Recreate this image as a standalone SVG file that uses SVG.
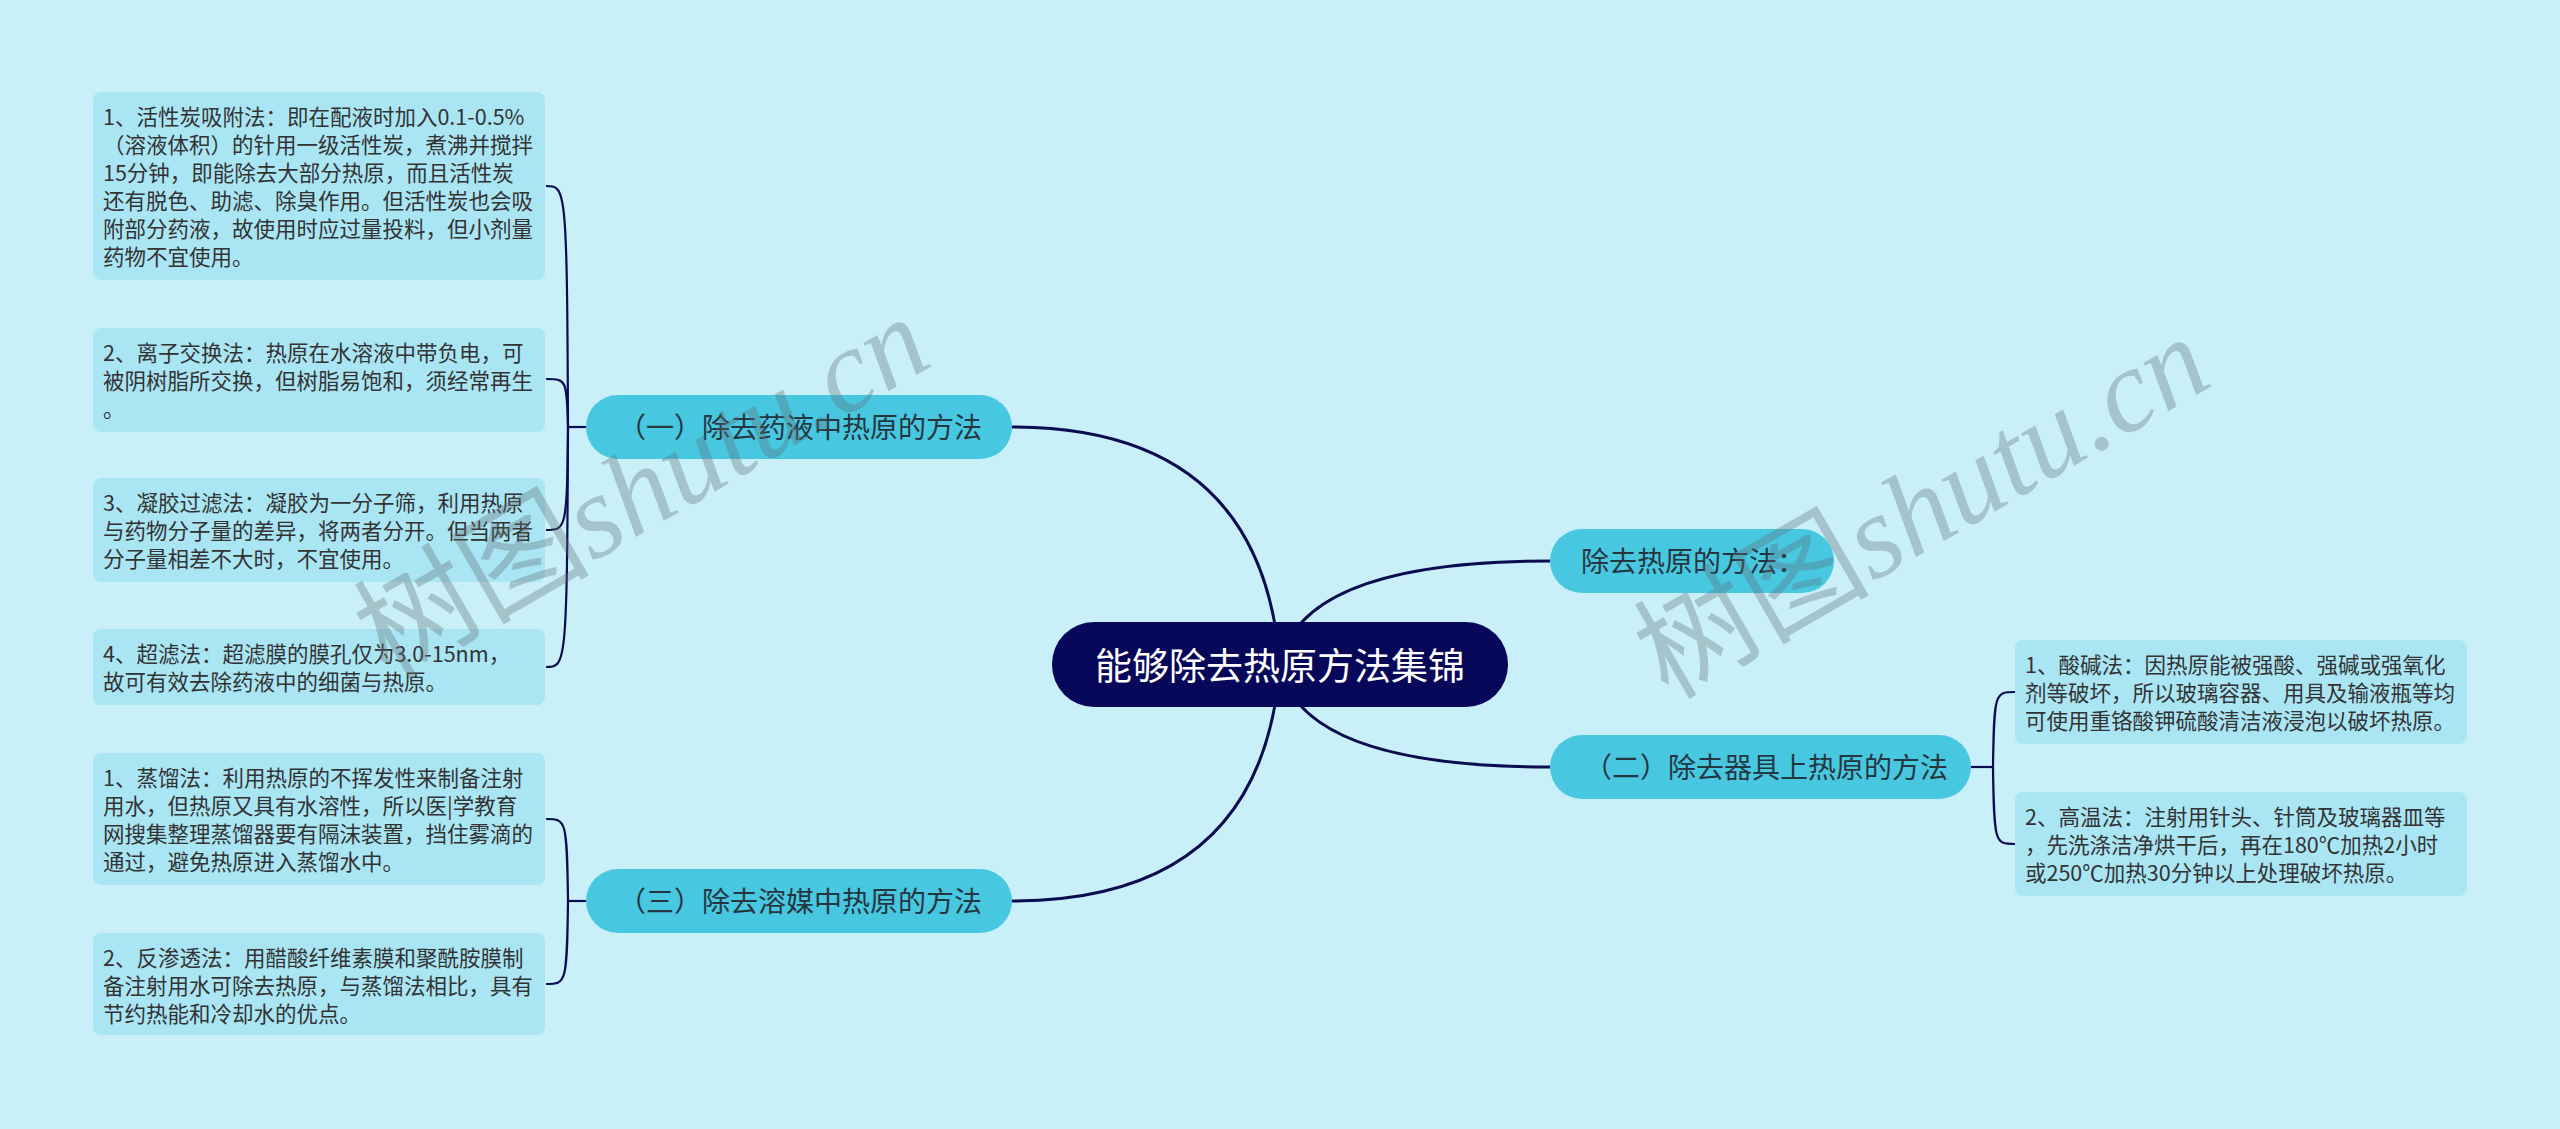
<svg xmlns="http://www.w3.org/2000/svg" width="2560" height="1129" viewBox="0 0 2560 1129">
<style>
.leaf{fill:#aae5f3;}
.lt{font-family:"Noto Sans CJK SC","Noto Sans",sans-serif;font-size:21.5px;fill:#333333;}
.main{fill:#48c7e1;}
.mt{font-family:"Noto Sans CJK SC","Noto Sans",sans-serif;font-size:28px;fill:#243640;}
.root{fill:#08085a;}
.rt{font-family:"Noto Sans CJK SC","Noto Sans",sans-serif;font-size:37px;fill:#ffffff;}
.c1{fill:none;stroke:#0b0b50;stroke-width:3;}
.c2{fill:none;stroke:#0b0b50;stroke-width:2.2;}
.wm{font-size:118px;fill:#5f6f75;opacity:0.34;}
</style>
<rect width="2560" height="1129" fill="#c9f0f8"/>
<g id="connectors">
<path class="c1" d="M1280,665 Q1262,427 1012,427"/>
<path class="c1" d="M1280,665 Q1300,561 1550,561"/>
<path class="c1" d="M1280,665 Q1300,767 1550,767"/>
<path class="c1" d="M1280,665 Q1262,901 1012,901"/>
<path class="c2" d="M586,427 L568,427"/>
<path class="c2" d="M568,427 C567,186 566,186 546,186"/>
<path class="c2" d="M568,427 C567,379 566,379 546,379"/>
<path class="c2" d="M568,427 C567,530 566,530 546,530"/>
<path class="c2" d="M568,427 C567,667 566,667 546,667"/>
<path class="c2" d="M586,901 L568,901"/>
<path class="c2" d="M568,901 C567,819 566,819 546,819"/>
<path class="c2" d="M568,901 C567,984 566,984 546,984"/>
<path class="c2" d="M1971,767 L1993,767"/>
<path class="c2" d="M1993,767 C1994,692 1995,692 2015,692"/>
<path class="c2" d="M1993,767 C1994,844 1995,844 2015,844"/>
</g>
<g id="root">
<rect class="root" x="1052" y="622" width="456" height="85" rx="42"/>
<text class="rt" x="1280" y="680" text-anchor="middle">能够除去热原方法集锦</text>
</g>
<g id="n1">
<rect class="main" x="586" y="395" width="426" height="64" rx="32"/>
<text class="mt" x="800" y="438" text-anchor="middle">（一）除去药液中热原的方法</text>
</g>
<g id="n2">
<rect class="main" x="1550" y="529" width="284" height="64" rx="32"/>
<text class="mt" x="1581" y="572">除去热原的方法：</text>
</g>
<g id="n3">
<rect class="main" x="1550" y="735" width="421" height="64" rx="32"/>
<text class="mt" x="1766" y="778" text-anchor="middle">（二）除去器具上热原的方法</text>
</g>
<g id="n4">
<rect class="main" x="586" y="869" width="426" height="64" rx="32"/>
<text class="mt" x="800" y="912" text-anchor="middle">（三）除去溶媒中热原的方法</text>
</g>
<g id="leaf1">
<rect class="leaf" x="93" y="92" width="452" height="188" rx="8"/>
<text class="lt" x="103" y="125"><tspan x="103">1、活性炭吸附法：即在配液时加入0.1-0.5%</tspan><tspan x="103" dy="28">（溶液体积）的针用一级活性炭，煮沸并搅拌</tspan><tspan x="103" dy="28">15分钟，即能除去大部分热原，而且活性炭</tspan><tspan x="103" dy="28">还有脱色、助滤、除臭作用。但活性炭也会吸</tspan><tspan x="103" dy="28">附部分药液，故使用时应过量投料，但小剂量</tspan><tspan x="103" dy="28">药物不宜使用。</tspan></text>
</g>
<g id="leaf2">
<rect class="leaf" x="93" y="328" width="452" height="104" rx="8"/>
<text class="lt" x="103" y="361"><tspan x="103">2、离子交换法：热原在水溶液中带负电，可</tspan><tspan x="103" dy="28">被阴树脂所交换，但树脂易饱和，须经常再生</tspan><tspan x="103" dy="28">。</tspan></text>
</g>
<g id="leaf3">
<rect class="leaf" x="93" y="478" width="452" height="104" rx="8"/>
<text class="lt" x="103" y="511"><tspan x="103">3、凝胶过滤法：凝胶为一分子筛，利用热原</tspan><tspan x="103" dy="28">与药物分子量的差异，将两者分开。但当两者</tspan><tspan x="103" dy="28">分子量相差不大时，不宜使用。</tspan></text>
</g>
<g id="leaf4">
<rect class="leaf" x="93" y="629" width="452" height="76" rx="8"/>
<text class="lt" x="103" y="662"><tspan x="103">4、超滤法：超滤膜的膜孔仅为3.0-15nm，</tspan><tspan x="103" dy="28">故可有效去除药液中的细菌与热原。</tspan></text>
</g>
<g id="leaf5">
<rect class="leaf" x="93" y="753" width="452" height="132" rx="8"/>
<text class="lt" x="103" y="786"><tspan x="103">1、蒸馏法：利用热原的不挥发性来制备注射</tspan><tspan x="103" dy="28">用水，但热原又具有水溶性，所以医|学教育</tspan><tspan x="103" dy="28">网搜集整理蒸馏器要有隔沫装置，挡住雾滴的</tspan><tspan x="103" dy="28">通过，避免热原进入蒸馏水中。</tspan></text>
</g>
<g id="leaf6">
<rect class="leaf" x="93" y="933" width="452" height="102" rx="8"/>
<text class="lt" x="103" y="966"><tspan x="103">2、反渗透法：用醋酸纤维素膜和聚酰胺膜制</tspan><tspan x="103" dy="28">备注射用水可除去热原，与蒸馏法相比，具有</tspan><tspan x="103" dy="28">节约热能和冷却水的优点。</tspan></text>
</g>
<g id="leaf7">
<rect class="leaf" x="2015" y="640" width="452" height="104" rx="8"/>
<text class="lt" x="2025" y="673"><tspan x="2025">1、酸碱法：因热原能被强酸、强碱或强氧化</tspan><tspan x="2025" dy="28">剂等破坏，所以玻璃容器、用具及输液瓶等均</tspan><tspan x="2025" dy="28">可使用重铬酸钾硫酸清洁液浸泡以破坏热原。</tspan></text>
</g>
<g id="leaf8">
<rect class="leaf" x="2015" y="792" width="452" height="104" rx="8"/>
<text class="lt" x="2025" y="825"><tspan x="2025">2、高温法：注射用针头、针筒及玻璃器皿等</tspan><tspan x="2025" dy="28">，先洗涤洁净烘干后，再在180℃加热2小时</tspan><tspan x="2025" dy="28">或250℃加热30分钟以上处理破坏热原。</tspan></text>
</g>
<g id="watermarks">
<text class="wm" transform="translate(662,522) rotate(-30)" text-anchor="middle"><tspan font-family="'Noto Sans CJK SC',sans-serif">树图</tspan><tspan font-family="'Liberation Serif',serif" font-style="italic">shutu.cn</tspan></text>
<text class="wm" transform="translate(1942,542) rotate(-30)" text-anchor="middle"><tspan font-family="'Noto Sans CJK SC',sans-serif">树图</tspan><tspan font-family="'Liberation Serif',serif" font-style="italic">shutu.cn</tspan></text>
</g>
</svg>
